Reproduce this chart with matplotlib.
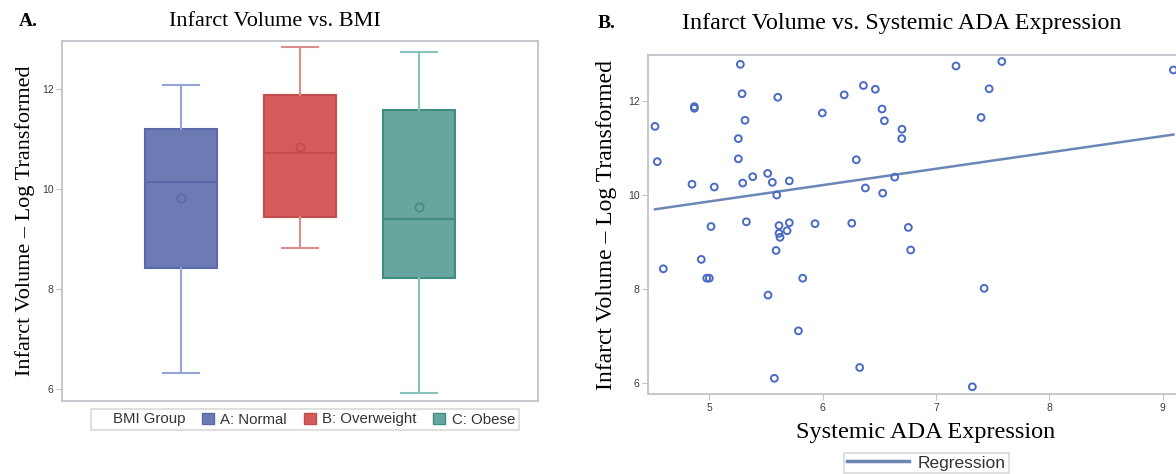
import matplotlib
matplotlib.use("Agg")
import matplotlib.pyplot as plt
import matplotlib.patches as mpatches
from matplotlib.lines import Line2D
import numpy as np

# Panel A - box summaries
grupos = ["A: Normal", "B: Overweight", "C: Obese"]
q1 = [8.43, 9.44, 8.23]
mediana = [10.14, 10.72, 9.40]
q3 = [11.21, 11.89, 11.58]
whis_lo = [6.32, 8.83, 5.92]
whis_hi = [12.09, 12.85, 12.75]
media = [9.83, 10.85, 9.65]

cores_caixa = ["#6c7bb4", "#d45b5b", "#67a59f"]
cores_borda = ["#5a69aa", "#c44c4c", "#3f8c81"]
cores_bigode = ["#95a3d9", "#dc8c8c", "#86c1ba"]

# Panel B - scatter points
ada = [5.274, 5.289, 5.604, 4.868, 4.868, 4.521, 5.315, 5.997, 6.19, 6.36,
       6.465, 5.256, 4.541, 5.256, 6.297, 4.847, 5.044, 5.295, 5.383, 5.515,
       5.556, 5.706, 5.595, 6.377, 5.015, 5.327, 5.615, 5.706, 5.933, 6.257,
       5.615, 5.624, 5.686, 5.589, 4.929, 4.594, 4.977, 5.0, 5.824, 5.518,
       5.786, 6.327, 5.574, 6.756, 6.777, 7.425, 7.321, 7.177, 7.581, 9.095,
       7.469, 6.524, 6.545, 7.398, 6.70, 6.698, 6.636, 6.53]
infarto = [12.78, 12.155, 12.08, 11.88, 11.845, 11.46, 11.59, 11.745, 12.13, 12.33,
           12.25, 11.2, 10.71, 10.77, 10.75, 10.23, 10.17, 10.255, 10.39, 10.46,
           10.27, 10.30, 10.0, 10.15, 9.33, 9.43, 9.35, 9.41, 9.39, 9.40,
           9.185, 9.10, 9.24, 8.82, 8.63, 8.43, 8.23, 8.23, 8.23, 7.87,
           7.11, 6.33, 6.10, 9.31, 8.83, 8.015, 5.92, 12.745, 12.84, 12.66,
           12.26, 11.83, 11.58, 11.65, 11.40, 11.20, 10.38, 10.04]
reg_intercepto = 8.125
reg_inclinacao = 0.3476

serif = ["Liberation Serif", "DejaVu Serif"]
sans = ["Liberation Sans", "DejaVu Sans"]
cor_moldura = "#bfc3c7"
cor_tick = "#3a3a3a"

fig = plt.figure(figsize=(11.76, 4.74), dpi=100)

# ---------- Panel A ----------
ax1 = fig.add_axes([62 / 1176, 1 - 401 / 474, 476 / 1176, 360 / 474])
for i in range(3):
    s = dict(med=mediana[i], q1=q1[i], q3=q3[i], whislo=whis_lo[i],
             whishi=whis_hi[i], mean=media[i], fliers=[], label=grupos[i])
    ax1.bxp([s], positions=[i + 1], widths=0.6, patch_artist=True, showmeans=True,
            boxprops=dict(facecolor=cores_caixa[i], edgecolor=cores_borda[i], linewidth=1.5),
            medianprops=dict(color=cores_borda[i], linewidth=1.5),
            whiskerprops=dict(color=cores_bigode[i], linewidth=1.5),
            capprops=dict(color=cores_bigode[i], linewidth=1.5),
            meanprops=dict(marker="o", markerfacecolor="none", markeredgecolor=cores_borda[i],
                           markersize=6, markeredgewidth=1.2))
ax1.set_xlim(0, 4)
ax1.set_ylim(5.766, 12.966)
ax1.set_xticks([])
ax1.set_yticks([6, 8, 10, 12])
ax1.tick_params(axis="y", length=4, color=cor_moldura, labelsize=7.5, labelcolor=cor_tick, pad=2)
for t in ax1.get_yticklabels():
    t.set_family(sans)
for sp in ax1.spines.values():
    sp.set_color(cor_moldura)
    sp.set_linewidth(1.3)
ax1.set_ylabel("Infarct Volume \u2013 Log Transformed", family=serif, fontsize=16, labelpad=5)
fig.text(275 / 1176, 1 - 22 / 474, "Infarct Volume vs. BMI", family=serif, fontsize=16,
         ha="center", va="center")
fig.text(19 / 1176, 1 - 22 / 474, "A.", family=serif, fontsize=14, fontweight="bold", va="center")

alcas = [mpatches.Patch(color="none", label="BMI Group")]
for i in range(3):
    alcas.append(mpatches.Patch(facecolor=cores_caixa[i], edgecolor=cores_borda[i], label=grupos[i]))
leg1 = fig.legend(handles=alcas, loc="center", bbox_to_anchor=(304.7 / 1176, 1 - 419.5 / 474),
                  ncol=4, frameon=True, fancybox=False, prop=dict(family=sans, size=10.8),
                  handlelength=0.8, handleheight=0.8, handletextpad=0.45, columnspacing=1.1,
                  borderpad=0.22, edgecolor="#d0d0d0", labelcolor="#333333")
leg1.get_frame().set_linewidth(1.2)

# ---------- Panel B ----------
ax2 = fig.add_axes([648 / 1176, 1 - 394.3 / 474, 556 / 1176, 339.3 / 474])
ax2.scatter(ada, infarto, s=24, facecolors="none", edgecolors="#4a6bc5", linewidths=1.4, zorder=3)
xr = np.array([min(ada), max(ada)])
ax2.plot(xr, reg_intercepto + reg_inclinacao * xr, color="#6a87b5", linewidth=1.8, zorder=2)
ax2.set_xlim(4.459, 9.365)
ax2.set_ylim(5.76, 12.979)
ax2.set_xticks([5, 6, 7, 8, 9])
ax2.set_yticks([6, 8, 10, 12])
ax2.tick_params(length=4, color=cor_moldura, labelsize=7.5, labelcolor=cor_tick, pad=2)
for t in ax2.get_xticklabels() + ax2.get_yticklabels():
    t.set_family(sans)
for sp in ax2.spines.values():
    sp.set_color(cor_moldura)
    sp.set_linewidth(1.3)
ax2.set_ylabel("Infarct Volume \u2013 Log Transformed", family=serif, fontsize=17, labelpad=8)
ax2.set_xlabel("Systemic ADA Expression", family=serif, fontsize=17.5, labelpad=7)
fig.text(902 / 1176, 1 - 24 / 474, "Infarct Volume vs. Systemic ADA Expression",
         family=serif, fontsize=17.3, ha="center", va="center")
fig.text(598 / 1176, 1 - 24 / 474, "B.", family=serif, fontsize=14, fontweight="bold", va="center")

leg2 = fig.legend(handles=[Line2D([], [], color="#6a87b5", linewidth=2.5, label="Regression")],
                  loc="center", bbox_to_anchor=(926.5 / 1176, 1 - 463 / 474), frameon=True,
                  fancybox=False, prop=dict(family=sans, size=12.5), handlelength=3.6,
                  handletextpad=0.5, borderpad=0.15, edgecolor="#d0d0d0", labelcolor="#333333")
leg2.get_frame().set_linewidth(1.2)

fig.savefig("out.png", dpi=100)
